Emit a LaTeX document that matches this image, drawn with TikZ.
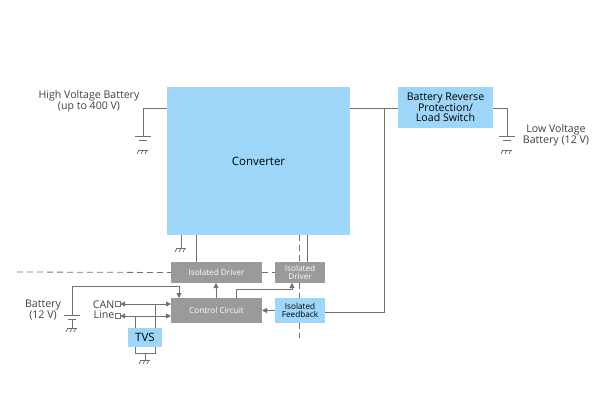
\documentclass[tikz,border=0pt]{standalone}
\usepackage{fontspec}
\setmainfont{Open Sans}
\usetikzlibrary{arrows.meta}
\definecolor{boxblue}{HTML}{9DD6F8}
\definecolor{boxgray}{HTML}{9A9A9A}
\definecolor{wire}{HTML}{707070}
\definecolor{textgray}{HTML}{404040}
\newcommand{\gnd}[1]{%
  \draw[WireStyle] ($(#1)+(-5,0)$) -- ($(#1)+(5,0)$);
  \foreach \dx in {-4,0,4} \draw[WireStyle] ($(#1)+(\dx,0)$) -- ++(-2,4);}
\newcommand{\batt}[1]{%
  \draw[WireStyle] ($(#1)+(-8,0)$) -- ($(#1)+(8,0)$);
  \draw[WireStyle] ($(#1)+(-4,4)$) -- ($(#1)+(4,4)$);}
\usetikzlibrary{calc}
\begin{document}
\begin{tikzpicture}[x=1pt,y=-1pt,font=\fontsize{10.6}{10}\selectfont,text=textgray]
  \tikzset{BlueStyle/.style = {
    shape         = rectangle,
    draw          = none,
    fill          = boxblue,
    text          = black,
    inner sep     = 0pt,
    outer sep     = 0pt,
    align         = center
    }
  }
  \tikzset{GrayStyle/.style = {
    shape         = rectangle,
    draw          = none,
    fill          = boxgray,
    text          = white,
    inner sep     = 0pt,
    outer sep     = 0pt,
    align         = center,
    font          = \fontsize{8.2}{8.5}\selectfont
    }
  }
  \tikzset{WireStyle/.style = {draw = wire, line width = 0.8pt}}
  \tikzset{ArrowStyle/.style = {WireStyle, -{Triangle[length=5pt,width=5pt]}}}
  \tikzset{DashStyle/.style = {WireStyle, dash pattern=on 6pt off 4pt}}
  \useasboundingbox (0,0) rectangle (600,420);

	\node[BlueStyle, minimum width=183pt, minimum height=148pt, font=\fontsize{11.5}{12}\selectfont](conv) at (258.5,161) {Converter};
	\node[BlueStyle, minimum width=95pt, minimum height=41pt](brp) at (445.5,107.5) {Battery Reverse\\Protection/\\Load Switch};
	\node[GrayStyle, minimum width=91pt, minimum height=21pt](drv1) at (216.5,272.5) {Isolated Driver};
	\node[GrayStyle, minimum width=50pt, minimum height=21pt](drv2) at (300,272.5) {Isolated\\Driver};
	\node[GrayStyle, minimum width=91pt, minimum height=25pt](ctrl) at (216.5,310.5) {Control Circuit};
	\node[BlueStyle, minimum width=50pt, minimum height=25pt, font=\fontsize{8.2}{8.5}\selectfont](fb) at (300,310.5) {Isolated\\Feedback};
	\node[BlueStyle, minimum width=34pt, minimum height=19pt, font=\fontsize{11.5}{12}\selectfont](tvs) at (145,337.5) {TVS};
	%
	\node[align=center](hvtxt) at (89,101) {High Voltage Battery\\(up to 400 V)};
	\node[align=center](lvtxt) at (556,135) {Low Voltage\\Battery (12 V)};
	\node[align=center](battxt) at (43,310) {Battery\\(12 V)};
	\node[align=right, anchor=east, inner sep=0.5pt](cantxt) at (115,310) {CAN\\Line};
	\node[draw=wire, inner sep=0pt, minimum size=5pt](can) at (117.5,304) {};
	\node[draw=wire, inner sep=0pt, minimum size=5pt](line) at (117.5,316) {};
	%
	\coordinate (hv) at (143,136);
	\coordinate (lv) at (507,136);
	\coordinate (b12) at (72,315);
	\draw[WireStyle] (conv.west |- 0,108) -| (hv);
	\batt{hv} \gnd{143,150}
	\draw[WireStyle] (conv.east |- 0,108) -- (brp.west |- 0,108);
	\draw[WireStyle] (brp.east |- 0,108) -| (lv);
	\batt{lv} \gnd{507,150}
	\draw[WireStyle] (384,108) |- (fb.east |- 0,312);
	%
	\draw[WireStyle] (181,235) -- (181,248); \gnd{181,248}
	\draw[WireStyle] (196,235) -- (196,262);
	\draw[WireStyle] (307,235) -- (307,262);
	\draw[DashStyle] (299,235) -- (299,262);
	\draw[DashStyle] (299,283) -- (299,298);
	\draw[DashStyle] (299,323) -- (299,338);
	\draw[DashStyle] (17,272) -- (drv1.west);
	\draw[DashStyle] (drv1.east) -- (drv2.west);
	%
	\draw[ArrowStyle] (fb.west) -- (ctrl.east);
	\draw[ArrowStyle] (216,298) -- (216,283);
	\draw[ArrowStyle] (236,298) |- (292,289) -- (292,283);
	\draw[ArrowStyle] (b12) |- (179,286) -- (179,298);
	\batt{b12} \draw[WireStyle] (72,319) -- (72,328); \gnd{72,328}
	\draw[ArrowStyle, {Triangle[length=5pt,width=5pt]}-{Triangle[length=5pt,width=5pt]}] (can.east) -- (can.east -| ctrl.west);
	\draw[ArrowStyle, {Triangle[length=5pt,width=5pt]}-{Triangle[length=5pt,width=5pt]}] (line.east) -- (line.east -| ctrl.west);
	\draw[WireStyle] (155,304) -- (155,328);
	\draw[WireStyle] (135,316) -- (135,328);
	\draw[WireStyle] (135,347) -- (135,353) -- (155,353) -- (155,347);
	\draw[WireStyle] (145,353) -- (145,360); \gnd{145,360}
\end{tikzpicture}
\end{document}
